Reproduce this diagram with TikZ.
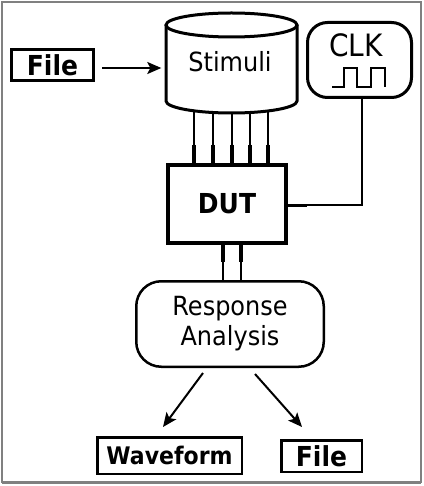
\documentclass[tikz,border=0pt]{standalone}
\usepackage{fontspec}
\setmainfont{DejaVu Sans}
\usepackage{graphicx}
\usepackage{tikz}
\usetikzlibrary{positioning,calc,arrows.meta}

% the reference lettering is a little taller than the font
\newcommand\tallt[1]{\scalebox{1}[1.1]{#1}}

\tikzset{
  box/.style={draw, line width=3pt, inner sep=0pt, font=\bfseries\fontsize{25}{30}\selectfont},
  rbox/.style={draw, line width=3pt, rounded corners=20pt, inner sep=0pt},
  wire/.style={line width=1.5pt},
  pin/.style={line width=3.5pt},
  arr/.style={line width=2pt, -{Stealth[length=14pt,width=12pt,inset=3pt]}},
}

\begin{document}
\begin{tikzpicture}[x=1pt,y=-1pt]
    \useasboundingbox (0,0) rectangle (423,486);
    % Frame
    \draw[gray, line width=1.5pt] (2,2) rectangle (421,482);
    \draw[gray, line width=2.5pt] (2,482.5) -- (421,482.5);

    % Input file
    \node[box, minimum width=82pt, minimum height=31pt] (filein) at (52.5,65) {\tallt{File}};

    % DUT
    \node[box, line width=4pt, minimum width=118pt, minimum height=77pt] (dut) at (227,204) {\tallt{DUT}};

    % Pins: stimuli -> DUT
    \foreach \x in {194,213,232,250,268} {
        \draw[wire] (\x,101) -- (\x,145);
        \draw[pin] (\x,145) -- (\x,0 |- dut.north);
    }

    % Stimuli cylinder, then its text node on top
    \draw[line width=3pt, fill=white] (166,25) -- (166,101)
        arc[start angle=180, end angle=0, x radius=65.5, y radius=12] -- (297,25);
    \draw[line width=3pt, fill=white] (231.5,25) ellipse[x radius=65.5, y radius=12];
    \node[minimum width=131pt, minimum height=60pt, font=\fontsize{24}{30}\selectfont] (stim) at (230,62) {\tallt{Stimuli}};

    \draw[arr, shorten <=7pt, shorten >=3pt] ([yshift=-3pt]filein.east) -- ([yshift=-6pt]stim.west);

    % Clock
    \node[rbox, minimum width=104pt, minimum height=75pt] (clk) at (359.5,60) {};
    \node[font=\fontsize{28}{30}\selectfont] (clktxt) at (356,45) {\tallt{CLK}};
    \draw[line width=2.5pt] (332,87) -| (344,68) -| (357,87) -| (371,68) -| (385,87);
    \coordinate (clkin) at (307,205);
    \draw[wire] ([xshift=2.5pt]clk.south) |- (clkin);
    \draw[line width=3pt] (clkin) -- (dut.east |- clkin);

    % Response analysis
    \node[rbox, line width=2.5pt, rounded corners=25pt, minimum width=187.5pt, minimum height=85.5pt,
          align=center, font=\fontsize{24}{30}\selectfont] (resp) at (230,324) {\tallt{Response}\\\tallt{Analysis}};

    % Pins: DUT -> response
    \foreach \x in {223,241} {
        \draw[pin] (\x,0 |- dut.south) -- (\x,262);
        \draw[wire] (\x,262) -- (\x,0 |- resp.north);
    }

    % Outputs
    \node[box, line width=2.5pt, minimum width=144.5pt, minimum height=36.5pt,
          font=\bfseries\fontsize{22}{26}\selectfont] (wave) at (169.5,455.5) {\tallt{Waveform}};
    \node[box, line width=2.5pt, minimum width=80.5pt, minimum height=31.5pt] (fileout) at (321.5,456) {\tallt{File}};

    \draw[arr] ($(resp.south)+(-27,5)$) -- ($(wave.north)+(-6.5,-9)$);
    \draw[arr] ($(resp.south)+(25,6)$) -- ($(fileout.north)+(-19.5,-12)$);
\end{tikzpicture}
\end{document}
